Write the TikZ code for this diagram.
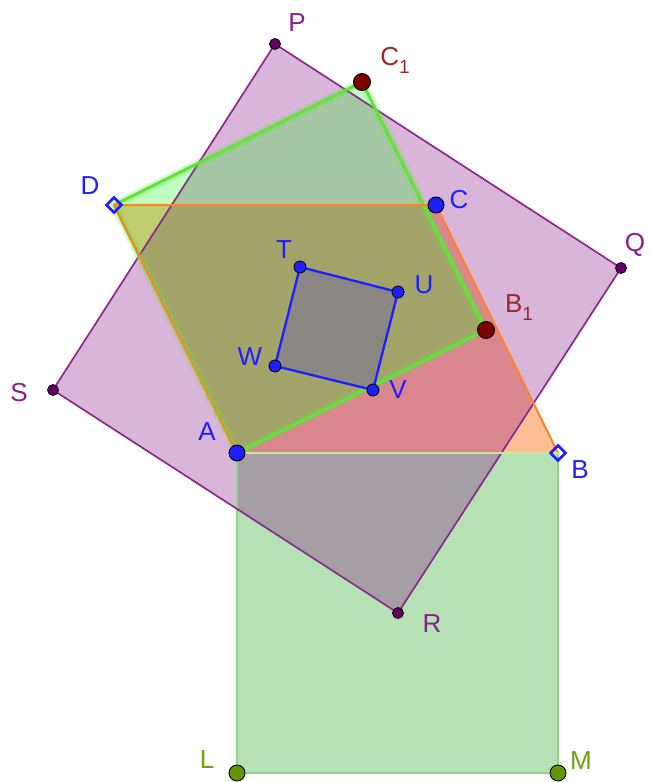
\documentclass[tikz,border=0pt]{standalone}
\usepackage{fontspec}
\setmainfont{Liberation Sans}
\usetikzlibrary{shapes.geometric}
\definecolor{ggreenA}{RGB}{0,153,0}
\definecolor{ggreenB}{RGB}{0,255,0}
\definecolor{gorange}{RGB}{255,110,20}
\definecolor{gpurple}{RGB}{128,0,128}
\definecolor{edgeA}{RGB}{140,215,140}
\definecolor{edgeB}{RGB}{100,225,60}
\definecolor{edgeO}{RGB}{255,130,40}
\definecolor{edgeP}{RGB}{140,40,140}
\definecolor{edgeAB}{RGB}{215,225,150}
\definecolor{gblue}{RGB}{30,30,255}
\definecolor{gdred}{RGB}{125,0,0}
\definecolor{lblred}{RGB}{155,40,40}
\definecolor{lblpurple}{RGB}{140,30,140}
\definecolor{gdpurple}{RGB}{100,0,100}
\definecolor{golive}{RGB}{100,150,10}
\definecolor{lblolive}{RGB}{110,160,20}
\definecolor{sqgray}{RGB}{138,134,130}
\tikzset{
  lbl/.style={inner sep=0pt, font=\fontsize{26}{26}\selectfont},
  bigdot/.style={circle, draw=black, line width=0.9pt, minimum size=16pt, inner sep=0pt},
  smalldot/.style={circle, draw=black, line width=0.8pt, minimum size=11pt, inner sep=0pt},
  freept/.style={diamond, draw=gblue, line width=2.6pt, minimum size=16pt, inner sep=0pt},
}
\newcommand{\sub}[1]{{\fontsize{19}{19}\selectfont\raisebox{-8pt}{#1}}}
\begin{document}
\begin{tikzpicture}[x=1pt,y=-1pt]
\useasboundingbox (0,0) rectangle (649,782);
% coordinates
\coordinate (A) at (237,453);
\coordinate (B) at (558,453);
\coordinate (C) at (436,205);
\coordinate (D) at (114,205);
\coordinate (B1) at (486,330);
\coordinate (C1) at (362,82);
\coordinate (L) at (237,773);
\coordinate (M) at (558,773);
\coordinate (P) at (275,44);
\coordinate (Q) at (621,268);
\coordinate (R) at (398,613);
\coordinate (S) at (53,390);
\coordinate (T) at (300,267);
\coordinate (U) at (398,292);
\coordinate (V) at (373,390);
\coordinate (W) at (275,366);
% fills
\fill[ggreenA, fill opacity=0.29] (A) -- (B) -- (M) -- (L) -- cycle;
\fill[gorange, fill opacity=0.45] (A) -- (B) -- (C) -- (D) -- cycle;
\fill[gpurple, fill opacity=0.29] (P) -- (Q) -- (R) -- (S) -- cycle;
\fill[ggreenB, fill opacity=0.25] (A) -- (B1) -- (C1) -- (D) -- cycle;
% edges
\draw[edgeA, line width=1.8pt] (B) -- (M) -- (L) -- (A);
\draw[edgeP, line width=1.7pt, line join=round] (P) -- (Q) -- (R) -- (S) -- cycle;
\draw[edgeB, line width=8pt, opacity=0.25, line join=round] (A) -- (B1) -- (C1) -- (D) -- cycle;
\draw[edgeB, line width=3pt, line join=round] (A) -- (B1) -- (C1) -- (D) -- cycle;
\draw[edgeO, line width=2pt] (D) -- (C) -- (B);
\draw[edgeO, line width=2pt] (A) -- (D);
\draw[edgeAB, line width=2pt] (A) -- (B);
% inner square
\fill[sqgray] (T) -- (U) -- (V) -- (W) -- cycle;
\draw[gblue, line width=2.3pt, line join=round] (T) -- (U) -- (V) -- (W) -- cycle;
% points
\node[bigdot, fill=gblue] (nA) at (A) {};
\node[bigdot, fill=gblue] (nC) at (C) {};
\node[bigdot, fill=gdred, minimum size=17pt] (nB1) at (B1) {};
\node[bigdot, fill=gdred, minimum size=17pt] (nC1) at (C1) {};
\node[bigdot, fill=golive] (nL) at (L) {};
\node[bigdot, fill=golive] (nM) at (M) {};
\node[freept] (nB) at (B) {};
\node[freept] (nD) at (D) {};
\node[smalldot, fill=gdpurple] (nP) at (P) {};
\node[smalldot, fill=gdpurple] (nQ) at (Q) {};
\node[smalldot, fill=gdpurple] (nR) at (R) {};
\node[smalldot, fill=gdpurple] (nS) at (S) {};
\node[smalldot, fill=gblue, minimum size=12pt] (nT) at (T) {};
\node[smalldot, fill=gblue, minimum size=12pt] (nU) at (U) {};
\node[smalldot, fill=gblue, minimum size=12pt] (nV) at (V) {};
\node[smalldot, fill=gblue, minimum size=12pt] (nW) at (W) {};
% labels
\node[lbl, text=lblpurple] (lP) at (297,23) {P};
\node[lbl, text=lblred] (lC1) at (395,60) {C\sub{1}};
\node[lbl, text=lblpurple] (lQ) at (635,245) {Q};
\node[lbl, text=gblue] (lD) at (90,186) {D};
\node[lbl, text=gblue] (lC) at (459,200) {C};
\node[lbl, text=gblue] (lT) at (284,250) {T};
\node[lbl, text=gblue] (lU) at (424,285) {U};
\node[lbl, text=lblred] (lB1) at (519,308) {B\sub{1}};
\node[lbl, text=gblue] (lW) at (250,357) {W};
\node[lbl, text=gblue] (lV) at (398,390) {V};
\node[lbl, text=lblpurple] (lS) at (19,393) {S};
\node[lbl, text=gblue] (lA) at (207,432) {A};
\node[lbl, text=gblue] (lB) at (580,470) {B};
\node[lbl, text=lblpurple] (lR) at (432,624) {R};
\node[lbl, text=lblolive] (lL) at (207,760) {L};
\node[lbl, text=lblolive] (lM) at (581,761) {M};
\end{tikzpicture}
\end{document}
